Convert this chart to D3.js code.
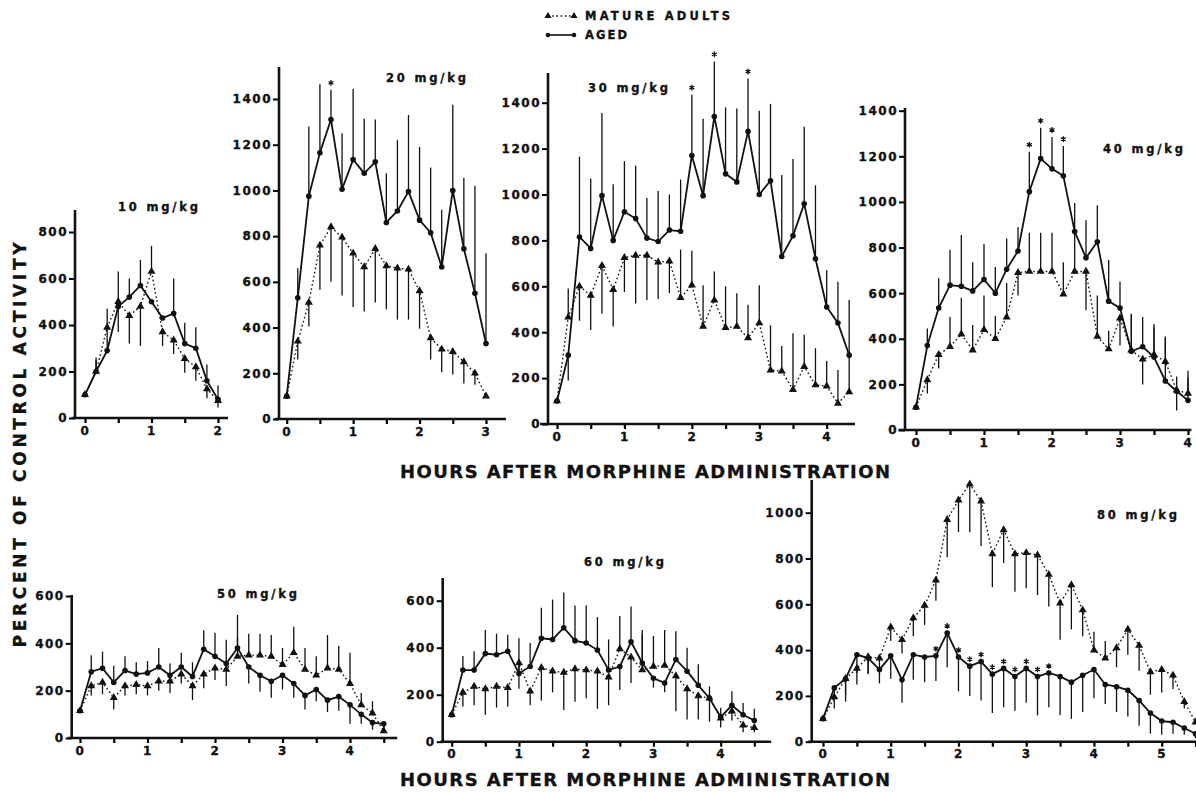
<!DOCTYPE html>
<html>
<head>
<meta charset="utf-8">
<script src="https://cdn.jsdelivr.net/npm/d3@7"></script>
<style>
  body { margin: 0; background: #fff; }
  svg { display: block; }
  text { font-family: "DejaVu Sans", sans-serif; font-weight: bold; fill: #111; stroke: #111; stroke-width: 0.35px; }
  .tick text { font-size: 12px; letter-spacing: 1.5px; }
</style>
</head>
<body>
<svg id="chart" width="1196" height="792"></svg>
<script>
var step = 1 / 6; // one reading every 10 minutes

// 10 mg/kg
var aged10 = [100, 200, 290, 480, 520, 570, 500, 430, 450, 320, 300, 160, 80];
var agedErr10 = [0, 60, 100, 150, 80, 110, 0, 0, 150, 90, 90, 70, 60];
var mature10 = [100, 200, 390, 500, 440, 480, 630, 370, 335, 255, 220, 125, 75];
var matureErr10 = [0, 50, 80, -130, -120, -170, 110, -60, -60, -60, -60, -40, -30];
var stars10 = [];

// 20 mg/kg
var aged20 = [100, 530, 975, 1165, 1310, 1005, 1135, 1075, 1125, 860, 910, 995, 870, 815, 665, 1000, 745, 550, 330];
var agedErr20 = [0, 130, 305, 300, 130, 245, 310, 240, 185, 215, 310, 335, 320, 285, 250, 375, 310, 470, 395];
var mature20 = [100, 340, 510, 760, 840, 795, 725, 665, 745, 670, 660, 655, 560, 355, 305, 295, 250, 200, 100];
var matureErr20 = [0, -80, -105, -195, -240, -255, -235, -195, -235, -190, -225, -220, -165, -95, -100, -100, -95, -50, 0];
var stars20 = [4];

// 30 mg/kg
var aged30 = [100, 300, 815, 765, 995, 800, 925, 895, 810, 795, 845, 840, 1170, 995, 1340, 1090, 1055, 1275, 1000, 1060, 730, 820, 960, 720, 510, 440, 300];
var agedErr30 = [0, -110, 350, 305, 360, 245, 220, 230, 175, 220, 155, 225, 265, 335, 240, 290, 320, 230, 365, 335, 355, 335, 335, 320, 160, 180, 240];
var mature30 = [100, 465, 600, 560, 690, 585, 725, 735, 735, 705, 710, 550, 605, 425, 540, 420, 425, 375, 440, 235, 230, 150, 250, 170, 165, 90, 140];
var matureErr30 = [0, 125, -150, -150, -210, -160, -150, -210, -195, -160, -140, 210, 150, 180, 125, 180, 145, 145, 165, 195, 110, 245, 140, 160, 110, 145, 170];
var stars30 = [12, 14, 17];

// 40 mg/kg
var aged40 = [100, 370, 535, 635, 630, 610, 660, 600, 705, 785, 1045, 1190, 1145, 1115, 870, 755, 825, 565, 535, 345, 365, 320, 215, 170, 130];
var agedErr40 = [0, 75, 130, 155, 225, 125, 155, 115, 135, 105, 175, 135, 140, 130, 125, 165, 160, 180, 115, 160, 130, 145, 190, 65, 100];
var mature40 = [100, 220, 330, 365, 420, 350, 440, 400, 495, 690, 695, 695, 695, 595, 695, 695, 410, 355, 490, 350, 310, 330, 300, 175, 160];
var matureErr40 = [0, -60, -60, 130, 160, 110, 150, 100, 150, -100, 170, 170, 170, 140, 170, -170, 180, 80, -120, 160, -110, 120, 110, -90, 100];
var stars40 = [10, 11, 12, 13];

// 50 mg/kg
var aged50 = [115, 280, 295, 235, 285, 270, 275, 300, 265, 300, 260, 375, 345, 315, 380, 300, 265, 240, 265, 230, 180, 205, 160, 175, 140, 100, 65, 60];
var agedErr50 = [0, 70, 70, 70, 60, 50, 50, 80, 50, 60, 60, 80, 100, 100, 140, -70, -70, -70, -60, -60, -60, -50, -50, -60, -80, -40, -30, -30];
var mature50 = [115, 220, 235, 170, 220, 225, 220, 240, 240, 270, 220, 270, 295, 290, 345, 350, 350, 345, 310, 360, 290, 265, 295, 290, 230, 140, 105, 30];
var matureErr50 = [0, -40, -50, -50, -40, -40, -40, -40, -50, -40, -60, -60, -50, -70, 80, 90, 90, 90, 70, 110, 90, 80, 140, 100, 130, 50, 50, 40];
var stars50 = [];

// 60 mg/kg
var aged60 = [115, 305, 305, 375, 370, 385, 290, 320, 440, 435, 485, 430, 420, 390, 305, 320, 425, 335, 270, 250, 350, 300, 240, 185, 105, 155, 115, 90];
var agedErr60 = [0, 60, 80, 100, 90, 70, 150, 100, 130, 170, 150, 150, 160, 140, 130, -100, 150, 140, -40, -40, 120, 100, 90, 50, 40, 60, 50, 50];
var mature60 = [115, 210, 235, 225, 235, 230, 335, 215, 315, 300, 295, 310, 305, 300, 275, 395, 360, 305, 320, 325, 280, 225, 195, 185, 100, 130, 70, 60];
var matureErr60 = [0, -60, -80, -110, -90, -80, -110, -60, -140, -90, -160, -140, -120, -160, -120, 140, -110, 150, 130, 150, -150, -130, -100, -100, -40, -40, -30, -20];
var stars60 = [];

// 80 mg/kg
var aged80 = [100, 235, 275, 380, 365, 315, 375, 270, 380, 370, 375, 475, 370, 330, 350, 295, 320, 285, 320, 285, 300, 285, 260, 290, 315, 250, 240, 225, 180, 125, 90, 85, 60, 35];
var agedErr80 = [0, -60, -100, -80, -70, -60, -100, -100, -110, -110, -110, -150, -150, -130, -170, -170, -170, -150, -150, -170, -150, -170, -160, -160, -125, -85, -110, -115, -110, -90, -60, -50, -30, -20];
var mature80 = [100, 195, 275, 320, 370, 365, 500, 445, 540, 595, 705, 970, 1055, 1125, 1050, 820, 925, 820, 825, 815, 730, 605, 685, 575, 400, 365, 410, 490, 420, 305, 315, 290, 175, 85];
var matureErr80 = [0, -50, -70, -70, -70, -60, -60, -60, -80, -85, -90, -165, -140, -210, -195, -145, -145, -165, -155, -175, -140, -160, -195, -115, 80, 75, -85, -110, -110, -100, -100, -60, -30, 0];
var stars80 = [10, 11, 12, 13, 14, 15, 16, 17, 18, 19, 20];

var yTicks800 = [0, 200, 400, 600, 800];
var yTicks1400 = [0, 200, 400, 600, 800, 1000, 1200, 1400];
var yTicks600 = [0, 200, 400, 600];
var yTicks1000 = [0, 200, 400, 600, 800, 1000];

var svg = d3.select("#chart");

var panels = [
  {label: "10 mg/kg", lx: 158, ly: 211, aged: aged10, agedErr: agedErr10, mature: mature10, matureErr: matureErr10, stars: stars10,
   hours: [0, 2], xr: [85, 218], xLo: -0.2, xHi: 2.15, lastTick: 2,
   yd: [0, 800], yr: [418, 232], yTicks: yTicks800, axisX: 75, axisTop: 210},
  {label: "20 mg/kg", lx: 426, ly: 82, aged: aged20, agedErr: agedErr20, mature: mature20, matureErr: matureErr20, stars: stars20,
   hours: [0, 3], xr: [286.7, 486], xLo: -0.18, xHi: 3.3, lastTick: 3,
   yd: [0, 1400], yr: [419, 99], yTicks: yTicks1400, axisX: 279, axisTop: 67},
  {label: "30 mg/kg", lx: 628, ly: 92, aged: aged30, agedErr: agedErr30, mature: mature30, matureErr: matureErr30, stars: stars30,
   hours: [0, 4], xr: [557, 826.7], xLo: -0.25, xHi: 4.42, lastTick: 4,
   yd: [0, 1400], yr: [424, 102.7], yTicks: yTicks1400, axisX: 548, axisTop: 73},
  {label: "40 mg/kg", lx: 1143, ly: 153, aged: aged40, agedErr: agedErr40, mature: mature40, matureErr: matureErr40, stars: stars40,
   hours: [0, 4], xr: [916, 1188], xLo: -0.26, xHi: 4.05, lastTick: 4,
   yd: [0, 1400], yr: [430, 110.7], yTicks: yTicks1400, axisX: 905, axisTop: 108},
  {label: "50 mg/kg", lx: 257, ly: 598, aged: aged50, agedErr: agedErr50, mature: mature50, matureErr: matureErr50, stars: stars50,
   hours: [0, 4], xr: [80, 350], xLo: -0.18, xHi: 4.7, lastTick: 4.5,
   yd: [0, 600], yr: [738, 596], yTicks: yTicks600, axisX: 71.7, axisTop: 595},
  {label: "60 mg/kg", lx: 624, ly: 566, aged: aged60, agedErr: agedErr60, mature: mature60, matureErr: matureErr60, stars: stars60,
   hours: [0, 4], xr: [451.7, 720.7], xLo: -0.17, xHi: 4.75, lastTick: 4.5,
   yd: [0, 600], yr: [741.7, 600.7], yTicks: yTicks600, axisX: 442.7, axisTop: 578},
  {label: "80 mg/kg", lx: 1137, ly: 519, aged: aged80, agedErr: agedErr80, mature: mature80, matureErr: matureErr80, stars: stars80,
   hours: [0, 5], xr: [823, 1161.7], xLo: -0.22, xHi: 5.6, lastTick: 5.5,
   yd: [0, 1000], yr: [741.7, 512.7], yTicks: yTicks1000, axisX: 811.7, axisTop: 480}
];

panels.forEach(drawPanel);

function drawPanel(p) {
  var x = d3.scaleLinear().domain(p.hours).range(p.xr);
  var y = d3.scaleLinear().domain(p.yd).range(p.yr);
  var g = svg.append("g");

  // y axis
  var gy = g.append("g")
    .attr("transform", "translate(" + p.axisX + ",0)")
    .call(d3.axisLeft(y).tickValues(p.yTicks).tickSize(6).tickPadding(1).tickFormat(d3.format("d")));
  gy.select(".domain").remove();
  gy.selectAll(".tick line").attr("stroke-width", 2);
  gy.append("line")
    .attr("y1", y(0) + 1).attr("y2", p.axisTop)
    .attr("stroke", "#111").attr("stroke-width", 2.6);

  // x axis, ticks every half hour
  var gx = g.append("g")
    .attr("transform", "translate(0," + y(0) + ")")
    .call(d3.axisBottom(x)
      .tickValues(d3.range(0, p.lastTick + 0.01, 0.5))
      .tickSize(5).tickPadding(3)
      .tickFormat(function(d) { return d % 1 === 0 ? d : ""; }));
  gx.select(".domain").remove();
  gx.selectAll(".tick line").attr("stroke-width", 2.2);
  gx.append("line")
    .attr("x1", x(p.xLo)).attr("x2", x(p.xHi))
    .attr("stroke", "#111").attr("stroke-width", 2.6);

  g.append("text")
    .attr("x", p.lx).attr("y", p.ly)
    .attr("text-anchor", "middle")
    .attr("font-size", 11.5)
    .attr("textLength", 80).attr("lengthAdjust", "spacing")
    .text(p.label);

  var agedPts = p.aged.map(function(v, i) { return {i: i, v: v, e: p.agedErr[i]}; });
  var maturePts = p.mature.map(function(v, i) { return {i: i, v: v, e: p.matureErr[i]}; });

  // error bars
  g.selectAll(".errbar")
    .data(agedPts.concat(maturePts).filter(function(d) { return d.e !== 0; }))
    .enter().append("line")
      .attr("x1", function(d) { return x(d.i * step); })
      .attr("x2", function(d) { return x(d.i * step); })
      .attr("y1", function(d) { return y(d.v); })
      .attr("y2", function(d) { return y(d.v + d.e); })
      .attr("stroke", "#111").attr("stroke-width", 1.3);

  var line = d3.line()
    .x(function(d, i) { return x(i * step); })
    .y(function(d) { return y(d); });

  g.append("path").datum(p.mature)
    .attr("d", line).attr("fill", "none")
    .attr("stroke", "#111").attr("stroke-width", 1.4)
    .attr("stroke-dasharray", "1.6,2.6");

  g.append("path").datum(p.aged)
    .attr("d", line).attr("fill", "none")
    .attr("stroke", "#111").attr("stroke-width", 1.8);

  g.selectAll(".tri")
    .data(maturePts)
    .enter().append("path")
      .attr("d", d3.symbol().type(d3.symbolTriangle).size(28))
      .attr("transform", function(d) { return "translate(" + x(d.i * step) + "," + y(d.v) + ")"; })
      .attr("fill", "#111");

  g.selectAll(".dot")
    .data(agedPts)
    .enter().append("circle")
      .attr("cx", function(d) { return x(d.i * step); })
      .attr("cy", function(d) { return y(d.v); })
      .attr("r", 2.8)
      .attr("fill", "#111");

  // significance marks above the aged points
  g.selectAll(".star")
    .data(p.stars)
    .enter().append("path")
      .attr("d", d3.symbol().type(d3.symbolAsterisk).size(22))
      .attr("transform", function(i) {
        return "translate(" + x(i * step) + "," + (y(Math.max(p.aged[i], p.aged[i] + p.agedErr[i])) - 7) + ")";
      })
      .attr("fill", "none").attr("stroke", "#111").attr("stroke-width", 1.3);
}

// axis titles
svg.append("text")
  .attr("transform", "translate(26,445) rotate(-90)")
  .attr("text-anchor", "middle")
  .attr("font-size", 17)
  .attr("textLength", 405).attr("lengthAdjust", "spacing")
  .text("PERCENT OF CONTROL ACTIVITY");

[478, 786].forEach(function(yy) {
  svg.append("text")
    .attr("x", 400).attr("y", yy)
    .attr("font-size", 18)
    .attr("textLength", 490).attr("lengthAdjust", "spacing")
    .text("HOURS AFTER MORPHINE ADMINISTRATION");
});

// legend
var legend = svg.append("g");
legend.append("line")
  .attr("x1", 548).attr("x2", 574).attr("y1", 16).attr("y2", 16)
  .attr("stroke", "#111").attr("stroke-width", 1.4).attr("stroke-dasharray", "1.6,2.6");
[548, 574].forEach(function(lx) {
  legend.append("path")
    .attr("d", d3.symbol().type(d3.symbolTriangle).size(22))
    .attr("transform", "translate(" + lx + ",16)")
    .attr("fill", "#111");
});
legend.append("line")
  .attr("x1", 548).attr("x2", 574).attr("y1", 35).attr("y2", 35)
  .attr("stroke", "#111").attr("stroke-width", 1.6);
[548, 574].forEach(function(lx) {
  legend.append("circle").attr("cx", lx).attr("cy", 35).attr("r", 2.3).attr("fill", "#111");
});
legend.append("text").attr("x", 585).attr("y", 20).attr("font-size", 11.5)
  .attr("textLength", 145).attr("lengthAdjust", "spacing").text("MATURE ADULTS");
legend.append("text").attr("x", 585).attr("y", 39).attr("font-size", 11.5)
  .attr("textLength", 42).attr("lengthAdjust", "spacing").text("AGED");
</script>
</body>
</html>
